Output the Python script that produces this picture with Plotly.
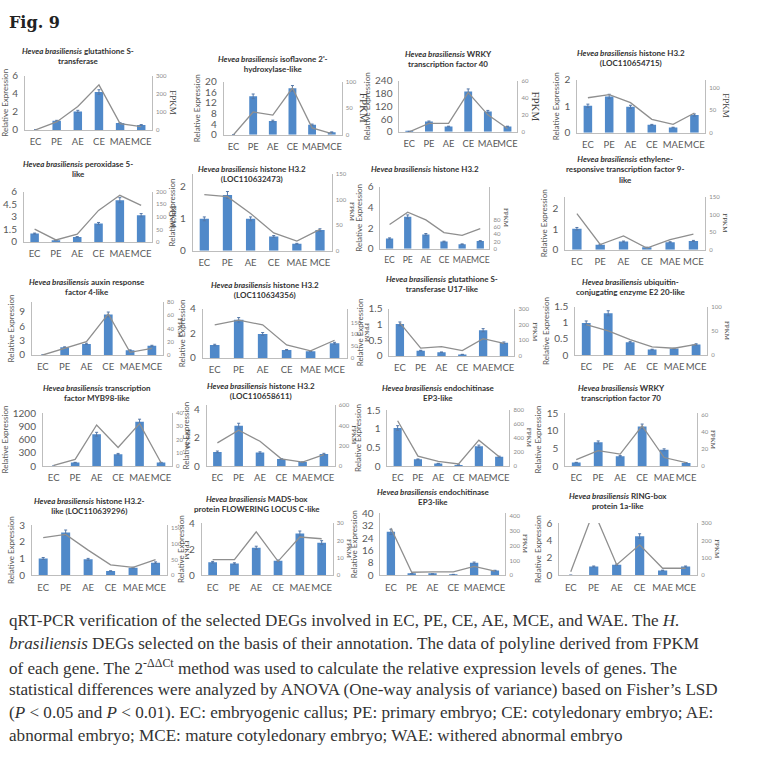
import plotly.graph_objects as go

W, H = 758, 767
cats = ["EC", "PE", "AE", "CE", "MAE", "MCE"]

titles = [
    "<i>Hevea brasiliensis</i> glutathione S-<br>transferase",
    "<i>Hevea brasiliensis</i> isoflavone 2'-<br>hydroxylase-like",
    "<i>Hevea brasiliensis</i> WRKY<br>transcription factor 40",
    "<i>Hevea brasiliensis</i> histone H3.2<br>(LOC110654715)",
    "<i>Hevea brasiliensis</i> peroxidase 5-<br>like",
    "<i>Hevea brasiliensis</i> histone H3.2<br>(LOC110632473)",
    "<i>Hevea brasiliensis</i> histone H3.2",
    "<i>Hevea brasiliensis</i> ethylene-<br>responsive transcription factor 9-<br>like",
    "<i>Hevea brasiliensis</i> auxin response<br>factor 4-like",
    "<i>Hevea brasiliensis</i> histone H3.2<br>(LOC110634356)",
    "<i>Hevea brasiliensis</i> glutathione S-<br>transferase U17-like",
    "<i>Hevea brasiliensis</i> ubiquitin-<br>conjugating enzyme E2 20-like",
    "<i>Hevea brasiliensis</i> transcription<br>factor MYB98-like",
    "<i>Hevea brasiliensis</i> histone H3.2<br>(LOC110658611)",
    "<i>Hevea brasiliensis</i> endochitinase<br>EP3-like",
    "<i>Hevea brasiliensis</i> WRKY<br>transcription factor 70",
    "<i>Hevea brasiliensis</i> histone H3.2-<br>like (LOC110639296)",
    "<i>Hevea brasiliensis</i> MADS-box<br>protein FLOWERING LOCUS C-like",
    "<i>Hevea brasiliensis</i> endochitinase<br>EP3-like",
    "<i>Hevea brasiliensis</i> RING-box<br>protein 1a-like",
]

# Relative expression (bars)
rel_01 = [0, 1.0, 2.05, 4.2, 0.75, 0.55]
rel_02 = [0, 14.5, 5.2, 17.5, 3.8, 1.0]
rel_03 = [2, 48, 25, 190, 95, 25]
rel_04 = [1.02, 1.37, 0.98, 0.30, 0.20, 0.67]
rel_05 = [1.0, 0.2, 0.6, 2.2, 5.0, 3.2]
rel_06 = [1.0, 1.75, 1.0, 0.45, 0.22, 0.65]
rel_07 = [1.0, 3.1, 1.4, 0.7, 0.45, 0.75]
rel_08 = [1.02, 0.25, 0.4, 0.12, 0.37, 0.43]
rel_09 = [0, 1.6, 2.3, 8.4, 1.0, 1.9]
rel_10 = [1.05, 3.1, 1.95, 0.65, 0.55, 1.2]
rel_11 = [1.02, 0.17, 0.12, 0.05, 0.82, 0.42]
rel_12 = [1.0, 1.3, 0.4, 0.17, 0.2, 0.33]
rel_13 = [0, 80, 720, 270, 1000, 80]
rel_14 = [1.0, 2.85, 0.95, 0.5, 0.28, 0.85]
rel_15 = [1.02, 0.18, 0.07, 0.03, 0.53, 0.25]
rel_16 = [1.0, 6.7, 2.8, 11.2, 4.6, 0.9]
rel_17 = [1.0, 2.55, 0.95, 0.25, 0.45, 0.75]
rel_18 = [1.0, 0.9, 2.1, 1.1, 3.2, 2.5]
rel_19 = [28, 1.0, 0.8, 0.5, 8, 3]
rel_20 = [0, 1.0, 1.2, 4.5, 0.55, 1.0]

# FPKM (polyline)
fpkm_01 = [0, 44, 130, 250, 35, 18]
fpkm_02 = [0, 43, 37, 88, 13, 2]
fpkm_03 = [0, 10, 10, 46, 20, 4]
fpkm_04 = [78, 85, 67, 30, 19, 44]
fpkm_05 = [51, 8, 31, 126, 186, 146]
fpkm_06 = [110, 106, 73, 35, 19, 42]
fpkm_07 = [67, 101, 80, 45, 37, 56]
fpkm_08 = [102, 15, 39, 5, 29, 44]
fpkm_09 = [0, 10, 20, 62, 4, 10]
fpkm_10 = [140, 160, 140, 55, 30, 75]
fpkm_11 = [210, 50, 60, 34, 110, 80]
fpkm_12 = [63, 50, 32, 17, 14, 22]
fpkm_13 = [0.5, 5, 31, 14, 32, 2.5]
fpkm_14 = [228, 353, 244, 72, 40, 112]
fpkm_15 = [648, 142, 66, 30, 370, 132]
fpkm_16 = [7.5, 18, 14, 47, 10, 4]
fpkm_17 = [120, 130, 80, 33, 25, 50]
fpkm_18 = [9, 9, 25, 8, 22, 21]
fpkm_19 = [320, 20, 22, 22, 60, 28]
fpkm_20 = [20, 370, 60, 175, 40, 40]

left_max = [6, 20, 240, 2, 6, 2.4, 6, 2.57, 11, 4, 1.5, 1.5,
            1200, 4.3, 1.5, 15, 3, 4, 40, 6]
left_ticks = [[0, 2, 4, 6], [0, 4, 8, 12, 16, 20], [0, 60, 120, 180, 240], [0, 1, 2],
              [0, 1.5, 3, 4.5, 6], [0, 1, 2], [0, 2, 4, 6], [0, 1, 2],
              [0, 3, 6, 9], [0, 2, 4], [0, 0.5, 1, 1.5], [0, 0.5, 1, 1.5],
              [0, 300, 600, 900, 1200], [0, 2, 4], [0, 0.5, 1, 1.5], [0, 5, 10, 15],
              [0, 1, 2, 3], [0, 2, 4], [0, 8, 16, 24, 32, 40], [0, 2, 4, 6]]
right_max = [300, 100, 60, 118, 200, 150, 171, 150, 80, 208, 300, 100,
             40, 600, 800, 62, 160, 30, 420, 300]
right_ticks = [[0, 100, 200, 300], [0, 50, 100], [0, 20, 40, 60], [0, 50, 100],
               [0, 50, 100, 150, 200], [0, 50, 100, 150], [0, 20, 40, 60, 80], [0, 50, 100, 150],
               [0, 20, 40, 60, 80], [0, 50, 100, 150], [0, 100, 200, 300], [0, 50, 100],
               [0, 10, 20, 30, 40], [0, 200, 400, 600], [0, 200, 400, 600, 800], [0, 20, 40, 60],
               [0, 50, 100, 150], [0, 10, 20, 30], [0, 100, 200, 300, 400], [0, 100, 200, 300]]

caption_lines = [
    "qRT-PCR verification of the selected DEGs involved in EC, PE, CE, AE, MCE, and WAE. The <i>H.</i>",
    "<i>brasiliensis</i> DEGs selected on the basis of their annotation. The data of polyline derived from FPKM",
    "of each gene. The 2<sup>-ΔΔCt</sup> method was used to calculate the relative expression levels of genes. The",
    "statistical differences were analyzed by ANOVA (One-way analysis of variance) based on Fisher’s LSD",
    "(<i>P</i> < 0.05 and <i>P</i> < 0.01). EC: embryogenic callus; PE: primary embryo; CE: cotyledonary embryo; AE:",
    "abnormal embryo; MCE: mature cotyledonary embryo; WAE: withered abnormal embryo",
]

rels = [rel_01, rel_02, rel_03, rel_04, rel_05, rel_06, rel_07, rel_08, rel_09, rel_10,
        rel_11, rel_12, rel_13, rel_14, rel_15, rel_16, rel_17, rel_18, rel_19, rel_20]
fpkms = [fpkm_01, fpkm_02, fpkm_03, fpkm_04, fpkm_05, fpkm_06, fpkm_07, fpkm_08, fpkm_09, fpkm_10,
         fpkm_11, fpkm_12, fpkm_13, fpkm_14, fpkm_15, fpkm_16, fpkm_17, fpkm_18, fpkm_19, fpkm_20]

# geometry in pixels: x-left, x-right, y-top, y-bottom, title first line y
geom = [
    (25, 152, 70, 125, 45), (224, 342, 76, 130, 53), (400, 518, 75, 127, 48), (578, 706, 74, 128, 47),
    (24, 152, 188, 239, 160), (193, 332, 170, 248, 165), (381, 490, 183, 246, 165), (566, 706, 193, 247, 155),
    (32, 163, 300, 354, 280), (203, 347, 307, 357, 283), (390, 515, 307, 355, 277), (576, 708, 305, 354, 280),
    (43, 172, 413, 467, 387), (207, 335, 405, 467, 385), (388, 510, 410, 467, 387), (566, 698, 413, 467, 387),
    (32, 167, 527, 578, 502), (202, 333, 525, 578, 500), (381, 506, 515, 578, 493), (560, 698, 525, 578, 497),
]
fpkm_size = [9, 11, 11, 9, 8, 7, 7, 7, 7, 7, 7, 7, 7, 7, 7, 7, 7, 7, 7, 7]
show_rel_title = [True] * 20
show_rel_title[4] = False

BAR = "#5089c9"
LINE = "#8f8f8f"
AX = "#bdbdbd"
TXT = "#595959"
SANS = "Lato"

def px(x):
    return x / W

def py(y):
    return 1 - y / H

fig = go.Figure()
layout = dict(
    width=W, height=H, margin=dict(l=0, r=0, t=0, b=0),
    paper_bgcolor="white", plot_bgcolor="white",
    showlegend=False, bargap=0.6,
)
annotations = []

for i in range(20):
    k = i + 1
    xl, xr, yt, yb, ty = geom[i]
    xname = "x" if k == 1 else f"x{k}"
    xkey = "xaxis" if k == 1 else f"xaxis{k}"
    jl, jr = 2 * k - 1, 2 * k
    ylname = "y" if jl == 1 else f"y{jl}"
    ylkey = "yaxis" if jl == 1 else f"yaxis{jl}"
    yrname = f"y{jr}"
    yrkey = f"yaxis{jr}"

    fig.add_trace(go.Bar(
        x=cats, y=rels[i], xaxis=xname, yaxis=ylname,
        marker=dict(color=BAR, line=dict(width=0)),
        error_y=dict(type="percent", value=6, color="#5578a8", thickness=1, width=1.5),
        hoverinfo="skip",
    ))
    fig.add_trace(go.Scatter(
        x=cats, y=fpkms[i], xaxis=xname, yaxis=yrname, mode="lines",
        line=dict(color=LINE, width=1.3), cliponaxis=False, hoverinfo="skip",
    ))

    slot = (xr - xl) / 6.0
    xfont = min(9.5, (slot - 1) / 2.0)
    layout[xkey] = dict(
        domain=[px(xl), px(xr)], anchor=ylname, type="category",
        categoryorder="array", categoryarray=cats, range=[-0.5, 5.5],
        showline=True, linecolor=AX, linewidth=1, showgrid=False, zeroline=False,
        ticks="outside", ticklen=3, tickcolor="rgba(0,0,0,0)", tickangle=0,
        tickfont=dict(family=SANS, size=xfont, color=TXT), fixedrange=True,
    )
    ydict = dict(
        domain=[py(yb), py(yt)], anchor=xname, range=[0, left_max[i]],
        tickmode="array", tickvals=left_ticks[i],
        showline=True, linecolor=AX, linewidth=1, showgrid=False, zeroline=False,
        ticks="outside", ticklen=4, tickcolor="rgba(0,0,0,0)",
        tickfont=dict(family=SANS, size=10, color=TXT), fixedrange=True,
    )
    if show_rel_title[i]:
        ydict["title"] = dict(text="Relative Expression", standoff=3,
                              font=dict(family=SANS, size=8, color=TXT))
    layout[ylkey] = ydict
    layout[yrkey] = dict(
        overlaying=ylname, side="right", anchor=xname, range=[0, right_max[i]],
        tickmode="array", tickvals=right_ticks[i],
        showline=True, linecolor=AX, linewidth=1, showgrid=False, zeroline=False,
        ticks="outside", ticklen=2, tickcolor="rgba(0,0,0,0)",
        tickfont=dict(family=SANS, size=6, color="#8a8a8a"), fixedrange=True,
    )

    # chart title
    annotations.append(dict(
        text=titles[i], x=px((xl + xr) / 2 - 10), y=py(ty - 7), xref="paper", yref="paper",
        xanchor="center", yanchor="top", showarrow=False,
        font=dict(family=SANS, size=8, color="#333333", weight="bold"),
    ))
    # FPKM label
    nch = max(len(str(v)) for v in right_ticks[i])
    annotations.append(dict(
        text="FPKM", x=px(xr + 4 + nch * 3.3), y=py((yt + yb) / 2), xref="paper", yref="paper",
        xanchor="left", yanchor="middle", showarrow=False, textangle=90,
        font=dict(family="Liberation Serif", size=fpkm_size[i], color="#404040"),
    ))

annotations.append(dict(
    text="<b>Fig. 9</b>", x=px(7), y=py(16), xref="paper", yref="paper",
    xanchor="left", yanchor="middle", showarrow=False,
    font=dict(family="DejaVu Serif", size=16, color="#222222"),
))

for n, line in enumerate(caption_lines):
    annotations.append(dict(
        text=line, x=px(7), y=py(624 + 23.5 * n), xref="paper", yref="paper",
        xanchor="left", yanchor="middle", showarrow=False, align="left",
        font=dict(family="Liberation Serif", size=17.1, color="#333333"),
    ))

layout["annotations"] = annotations
fig.update_layout(**layout)
fig.write_html("out.html")
